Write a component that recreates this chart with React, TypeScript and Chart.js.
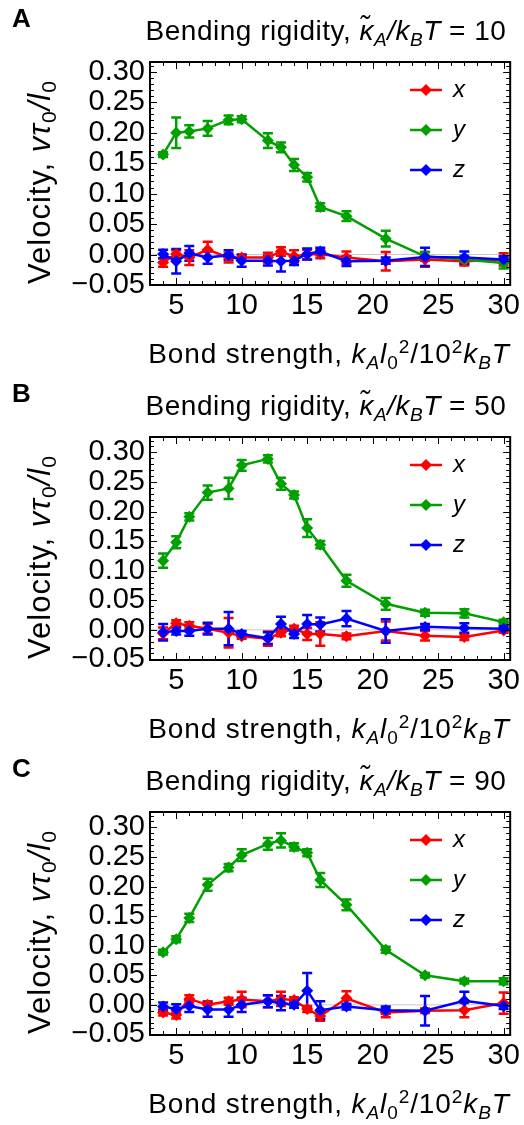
import React, { useEffect, useRef } from "react";
import { Chart, registerables } from "chart.js";
Chart.register(...registerables);

// ---------- data ----------
const bondStrength = [4, 5, 6, 7.4, 9, 10, 12, 13, 14, 15, 16, 18, 21, 24, 27, 30];
const xTicks = [5, 10, 15, 20, 25, 30];
const yTicks = [-0.05, 0, 0.05, 0.1, 0.15, 0.2, 0.25, 0.3];
const seriesNames = ["x", "y", "z"];
const seriesColors = ["#ff0000", "#00a000", "#0000ff"];
const panelLetters = ["A", "B", "C"];
const kappaValues = [10, 50, 90];

// Panel A (kappa = 10)
const aVx = [-0.013, 0.001, -0.005, 0.008, -0.005, -0.005, -0.005, 0.005, -0.003, 0.0, 0.001, -0.005, -0.011, -0.008, -0.011, -0.008];
const aVxErr = [0.007, 0.006, 0.012, 0.013, 0.008, 0.004, 0.008, 0.007, 0.01, 0.008, 0.007, 0.01, 0.015, 0.012, 0.007, 0.01];
const aVy = [0.164, 0.2, 0.202, 0.207, 0.221, 0.222, 0.187, 0.176, 0.147, 0.127, 0.078, 0.063, 0.026, -0.003, -0.008, -0.014];
const aVyErr = [0.004, 0.025, 0.01, 0.012, 0.007, 0.005, 0.012, 0.008, 0.01, 0.007, 0.006, 0.008, 0.013, 0.007, 0.006, 0.009];
const aVz = [0.001, -0.011, 0.002, -0.005, -0.001, -0.01, -0.01, -0.011, -0.01, 0.001, 0.005, -0.011, -0.01, -0.004, -0.005, -0.008];
const aVzErr = [0.007, 0.02, 0.012, 0.01, 0.008, 0.01, 0.008, 0.017, 0.007, 0.009, 0.006, 0.008, 0.005, 0.015, 0.01, 0.005];

// Panel B (kappa = 50)
const bVx = [-0.006, 0.011, 0.007, 0.002, -0.005, -0.011, -0.015, -0.005, 0.002, -0.007, -0.007, -0.011, -0.002, -0.01, -0.012, -0.001];
const bVxErr = [0.01, 0.005, 0.006, 0.008, 0.025, 0.004, 0.012, 0.006, 0.005, 0.01, 0.02, 0.005, 0.016, 0.008, 0.005, 0.004];
const bVy = [0.117, 0.148, 0.191, 0.232, 0.239, 0.278, 0.289, 0.247, 0.228, 0.172, 0.144, 0.083, 0.044, 0.029, 0.028, 0.013];
const bVyErr = [0.012, 0.01, 0.006, 0.012, 0.018, 0.009, 0.006, 0.01, 0.006, 0.015, 0.006, 0.01, 0.01, 0.005, 0.007, 0.004];
const bVz = [-0.004, -0.002, -0.002, 0.002, 0.002, -0.007, -0.014, 0.01, -0.007, 0.01, 0.009, 0.019, -0.002, 0.005, 0.003, 0.002];
const bVzErr = [0.014, 0.006, 0.008, 0.01, 0.028, 0.005, 0.01, 0.012, 0.007, 0.015, 0.012, 0.013, 0.02, 0.005, 0.008, 0.004];

// Panel C (kappa = 90)
const cVx = [-0.013, -0.017, 0.01, 0.0, 0.006, 0.009, 0.006, 0.01, 0.008, -0.007, -0.019, 0.011, -0.013, -0.01, -0.009, 0.003];
const cVxErr = [0.005, 0.006, 0.006, 0.006, 0.006, 0.013, 0.01, 0.012, 0.005, 0.005, 0.008, 0.012, 0.008, 0.004, 0.012, 0.018];
const cVy = [0.089, 0.111, 0.147, 0.203, 0.232, 0.253, 0.272, 0.278, 0.267, 0.257, 0.211, 0.169, 0.093, 0.05, 0.04, 0.04];
const cVyErr = [0.004, 0.005, 0.007, 0.01, 0.006, 0.01, 0.01, 0.012, 0.006, 0.006, 0.012, 0.009, 0.005, 0.004, 0.004, 0.005];
const cVz = [-0.003, -0.007, -0.002, -0.008, -0.008, 0.0, 0.006, 0.003, 0.0, 0.024, -0.009, -0.003, -0.009, -0.01, 0.007, -0.002];
const cVzErr = [0.007, 0.008, 0.01, 0.012, 0.012, 0.012, 0.01, 0.012, 0.005, 0.03, 0.015, 0.005, 0.006, 0.025, 0.015, 0.005];

const panelValues = [
  [aVx, aVy, aVz],
  [bVx, bVy, bVz],
  [cVx, cVy, cVz],
];
const panelErrors = [
  [aVxErr, aVyErr, aVzErr],
  [bVxErr, bVyErr, bVzErr],
  [cVxErr, cVyErr, cVzErr],
];
const panelYMin = [-0.05, -0.051, -0.051];
const panelYMax = [0.316, 0.326, 0.326];

// ---------- layout ----------
const W = 524;
const H = 375;
const FONT = '"Liberation Sans", Arial, Helvetica, sans-serif';

const fmt = (v: number) => {
  const s = Math.abs(v).toFixed(2);
  return v < -1e-9 ? "\u2212" + s : s;
};

const framePlugin = {
  id: "mmaFrame",
  beforeDatasetsDraw(chart: any) {
    const { ctx, chartArea: a, scales } = chart;
    const xs = scales.x;
    const ys = scales.y;
    ctx.save();
    // zero axis line
    const y0 = ys.getPixelForValue(0);
    ctx.strokeStyle = "#c8c8c8";
    ctx.lineWidth = 1;
    ctx.beginPath();
    ctx.moveTo(a.left, y0);
    ctx.lineTo(a.right, y0);
    ctx.stroke();
    // error bars
    const errs: number[][] = chart.options.plugins.mmaFrame.errors;
    chart.data.datasets.forEach((ds: any, i: number) => {
      ctx.strokeStyle = seriesColors[i];
      ctx.lineWidth = 2.5;
      ds.data.forEach((p: any, j: number) => {
        const e = errs[i][j];
        const px = xs.getPixelForValue(p.x);
        const pt = ys.getPixelForValue(p.y + e);
        const pb = ys.getPixelForValue(p.y - e);
        ctx.beginPath();
        ctx.moveTo(px, pt);
        ctx.lineTo(px, pb);
        ctx.moveTo(px - 5, pt);
        ctx.lineTo(px + 5, pt);
        ctx.moveTo(px - 5, pb);
        ctx.lineTo(px + 5, pb);
        ctx.stroke();
      });
    });
    ctx.restore();
  },
  afterDatasetsDraw(chart: any) {
    const { ctx, chartArea: a, scales } = chart;
    const xs = scales.x;
    const ys = scales.y;
    ctx.save();
    ctx.strokeStyle = "#000";
    ctx.lineWidth = 1;
    // x ticks (top and bottom)
    for (let v = Math.ceil(xs.min); v <= xs.max; v += 1) {
      const px = Math.round(xs.getPixelForValue(v)) + 0.5;
      const len = v % 5 === 0 ? 7 : 4;
      ctx.beginPath();
      ctx.moveTo(px, a.bottom);
      ctx.lineTo(px, a.bottom - len);
      ctx.moveTo(px, a.top);
      ctx.lineTo(px, a.top + len);
      ctx.stroke();
    }
    // y ticks (left and right)
    for (let k = Math.ceil(ys.min * 100 - 1e-6); k <= ys.max * 100 + 1e-6; k += 1) {
      const py = Math.round(ys.getPixelForValue(k / 100)) + 0.5;
      const len = k % 5 === 0 ? 7 : 4;
      ctx.beginPath();
      ctx.moveTo(a.left, py);
      ctx.lineTo(a.left + len, py);
      ctx.moveTo(a.right, py);
      ctx.lineTo(a.right - len, py);
      ctx.stroke();
    }
    // frame
    ctx.lineWidth = 2;
    ctx.strokeRect(a.left, a.top, a.right - a.left, a.bottom - a.top);
    // legend
    chart.data.datasets.forEach((ds: any, i: number) => {
      const ly = a.top + 28 + i * 40;
      const lx = 410;
      ctx.strokeStyle = seriesColors[i];
      ctx.fillStyle = seriesColors[i];
      ctx.lineWidth = 2.5;
      ctx.beginPath();
      ctx.moveTo(lx, ly);
      ctx.lineTo(lx + 32, ly);
      ctx.stroke();
      ctx.beginPath();
      ctx.moveTo(lx + 16, ly - 6);
      ctx.lineTo(lx + 22, ly);
      ctx.lineTo(lx + 16, ly + 6);
      ctx.lineTo(lx + 10, ly);
      ctx.closePath();
      ctx.fill();
      ctx.fillStyle = "#000";
      ctx.font = `italic 24px ${FONT}`;
      ctx.textBaseline = "middle";
      ctx.textAlign = "left";
      ctx.fillText(ds.label, lx + 43, ly);
    });
    ctx.restore();
  },
};

const subStyle: React.CSSProperties = { fontSize: "0.68em", verticalAlign: "-0.3em", lineHeight: 0 };
const supStyle: React.CSSProperties = { fontSize: "0.68em", verticalAlign: "0.55em", lineHeight: 0 };

function Panel({ index }: { index: number }) {
  const ref = useRef<HTMLCanvasElement>(null);
  useEffect(() => {
    const values = panelValues[index];
    const errors = panelErrors[index];
    const chart = new Chart(ref.current as HTMLCanvasElement, {
      type: "scatter",
      data: {
        datasets: values.map((vals, i) => ({
          label: seriesNames[i],
          data: bondStrength.map((x, j) => ({ x, y: vals[j] })),
          borderColor: seriesColors[i],
          backgroundColor: seriesColors[i],
          showLine: true,
          borderWidth: 2.5,
          pointStyle: "rectRot",
          pointRadius: 6,
          pointBorderWidth: 0,
          order: 3 - i,
        })),
      },
      options: {
        responsive: false,
        animation: false,
        devicePixelRatio: 1,
        layout: { padding: { top: 62, right: 13, left: 0, bottom: 0 } },
        plugins: {
          legend: { display: false },
          tooltip: { enabled: false },
          title: { display: false },
          mmaFrame: { errors },
        } as any,
        scales: {
          x: {
            type: "linear",
            min: 3,
            max: 30.5,
            grid: { display: false, drawTicks: false },
            border: { display: false },
            ticks: {
              color: "#000",
              font: { family: FONT, size: 29 },
              padding: 4,
              maxRotation: 0,
              autoSkip: false,
              callback: (v: any) => String(v),
            },
            afterBuildTicks: (s: any) => {
              s.ticks = xTicks.map((v) => ({ value: v }));
            },
            afterFit: (s: any) => {
              s.height = 90;
            },
          },
          y: {
            type: "linear",
            min: panelYMin[index],
            max: panelYMax[index],
            grid: { display: false, drawTicks: false },
            border: { display: false },
            ticks: {
              color: "#000",
              font: { family: FONT, size: 29 },
              padding: 5,
              autoSkip: false,
              callback: (v: any) => fmt(Number(v)),
            },
            afterBuildTicks: (s: any) => {
              s.ticks = yTicks.map((v) => ({ value: v }));
            },
            afterFit: (s: any) => {
              s.width = 150;
            },
          },
        },
      },
      plugins: [framePlugin],
    });
    return () => chart.destroy();
  }, [index]);

  const textBase: React.CSSProperties = {
    position: "absolute",
    fontFamily: FONT,
    color: "#000",
    whiteSpace: "nowrap",
  };

  return (
    <div style={{ position: "absolute", left: 0, top: index * H, width: W, height: H }}>
      <canvas ref={ref} width={W} height={H} style={{ width: W, height: H, display: "block" }} />
      <div style={{ ...textBase, left: 12, top: 3, fontSize: 26, fontWeight: "bold", lineHeight: "30px" }}>
        {panelLetters[index]}
      </div>
      <div
        style={{
          ...textBase,
          left: 76,
          width: 500,
          top: 16,
          textAlign: "center",
          fontSize: 28,
          letterSpacing: "0.5px",
          lineHeight: "30px",
        }}
      >
        Bending rigidity, <i>κ̃</i>
        <span style={subStyle}>
          <i>A</i>
        </span>
        <i>/k</i>
        <span style={subStyle}>
          <i>B</i>
        </span>
        <i>T</i> = {kappaValues[index]}
      </div>
      <div
        style={{
          position: "absolute",
          left: 40 - 160,
          top: 182 - 15,
          width: 320,
          height: 30,
          transform: "rotate(-90deg)",
          transformOrigin: "50% 50%",
          display: "flex",
          justifyContent: "center",
          alignItems: "center",
        }}
      >
        <span
          style={{
            fontFamily: FONT,
            color: "#000",
            whiteSpace: "nowrap",
            fontSize: 31,
            letterSpacing: "1px",
            lineHeight: "30px",
          }}
        >
          Velocity, <i>vτ</i>
          <span style={subStyle}>0</span>
          <i>/l</i>
          <span style={subStyle}>0</span>
        </span>
      </div>
      <div
        style={{
          ...textBase,
          left: 79,
          width: 500,
          top: 339,
          textAlign: "center",
          fontSize: 28,
          letterSpacing: "0.9px",
          lineHeight: "30px",
        }}
      >
        Bond strength, <i>k</i>
        <span style={subStyle}>
          <i>A</i>
        </span>
        <i>l</i>
        <span style={subStyle}>0</span>
        <span style={supStyle}>2</span>/10
        <span style={supStyle}>2</span>
        <i>k</i>
        <span style={subStyle}>
          <i>B</i>
        </span>
        <i>T</i>
      </div>
    </div>
  );
}

export default function App() {
  return (
    <div style={{ position: "absolute", left: 0, top: 0, width: W, height: H * 3, background: "#fff" }}>
      {[0, 1, 2].map((i) => (
        <Panel key={i} index={i} />
      ))}
    </div>
  );
}
